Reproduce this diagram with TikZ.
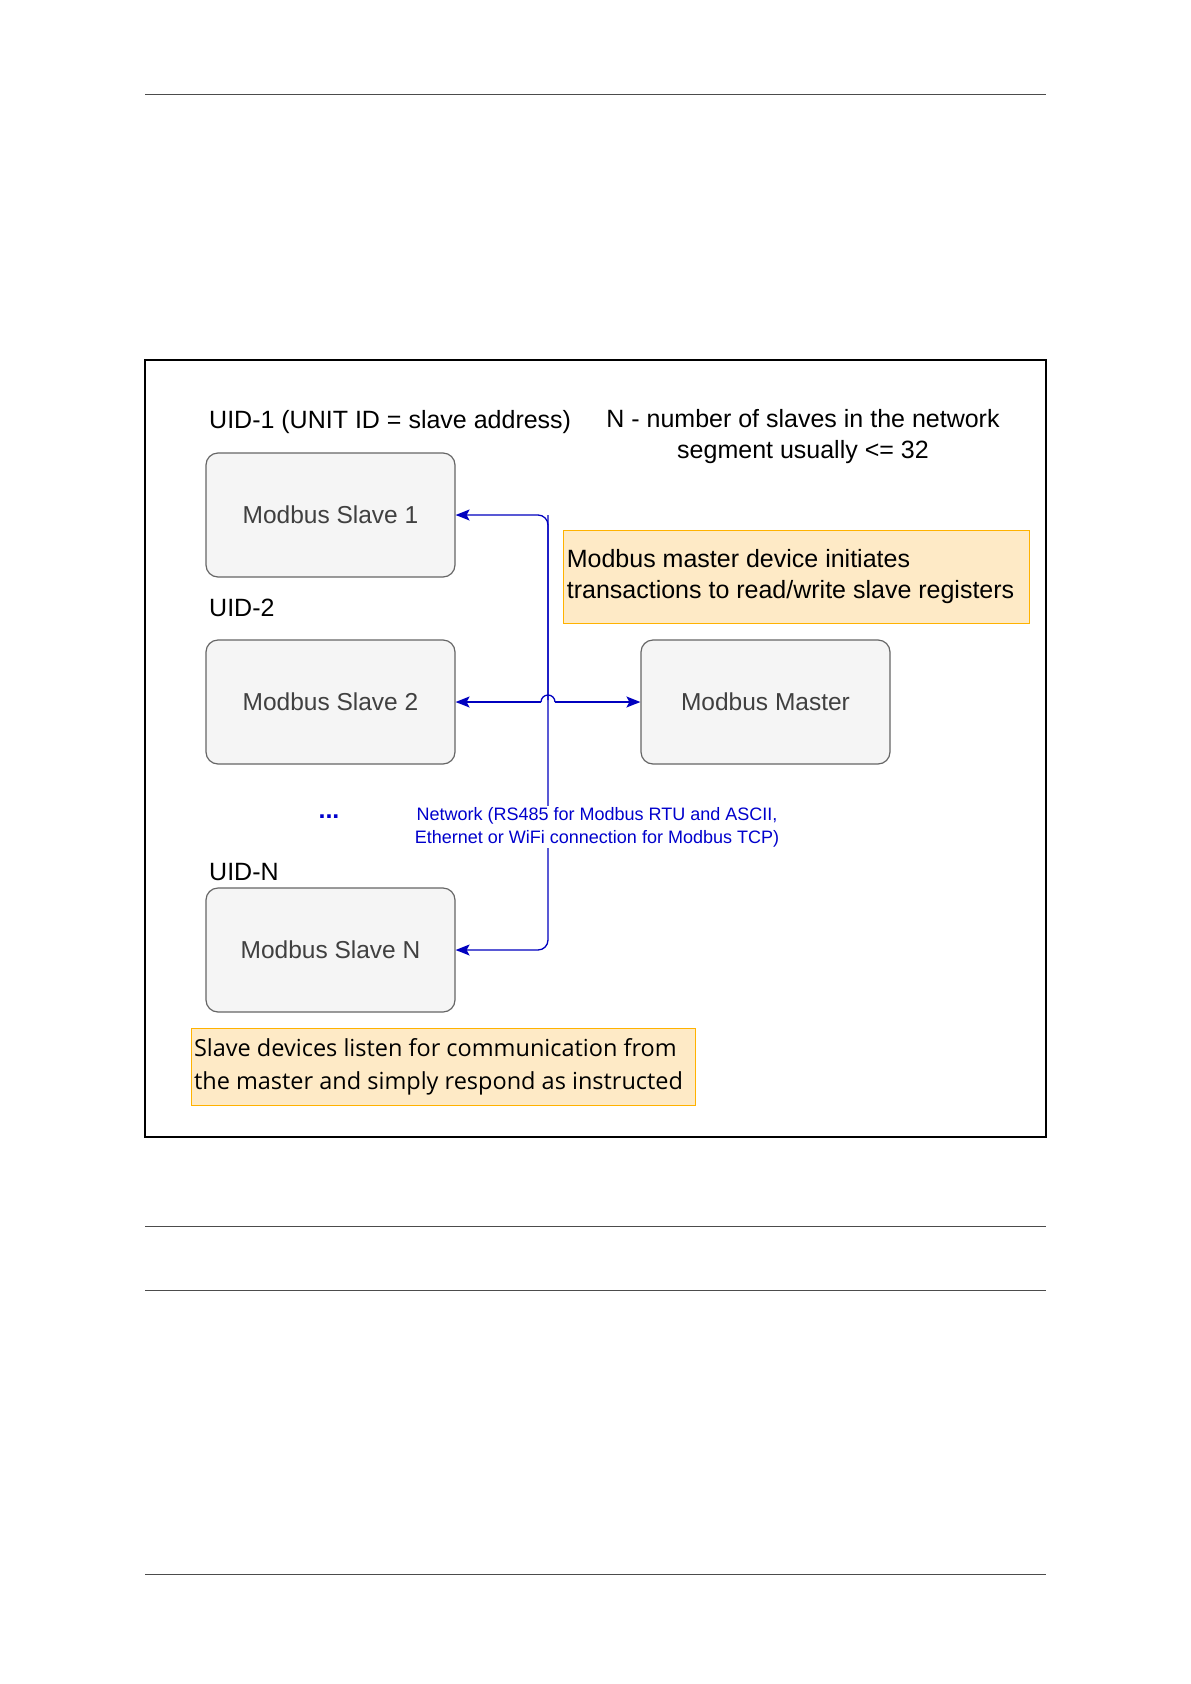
\documentclass[tikz,border=0pt]{standalone}
\usepackage{fontspec}
\setmainfont{Liberation Sans}
\newfontfamily\notefont{Open Sans}
\usetikzlibrary{arrows.meta}
\begin{document}
\begin{tikzpicture}[x=1pt,y=-1pt,
  devbox/.style={draw=black!60,line width=1.2pt,fill=black!4,rounded corners=12pt,font=\fontsize{24.5}{28}\selectfont,text=black!75},
  notebox/.style={draw=orange!60!yellow,line width=1pt,fill=yellow!25!orange!20,inner sep=2pt},
  lbl/.style={font=\fontsize{25}{31}\selectfont,inner sep=0pt},
  bus/.style={draw=blue!75!black,line width=1.3pt},
  tip/.style={-{Stealth[length=14pt,width=11pt,inset=3pt]}}]
\useasboundingbox (0,0) rectangle (1191,1684);
\draw[black!70,line width=0.8pt] (145,94) -- (1046,94);
\draw[black!70,line width=0.8pt] (145,1226) -- (1046,1226);
\draw[black!70,line width=0.8pt] (145,1290) -- (1046,1290);
\draw[black!70,line width=0.8pt] (145,1574) -- (1046,1574);
\draw[line width=1.2pt] (145,360) rectangle (1046,1137);
\node[devbox,minimum width=249pt,minimum height=124pt] (s1) at (330.5,515) {Modbus Slave 1};
\node[devbox,minimum width=249pt,minimum height=124pt] (s2) at (330.5,702) {Modbus Slave 2};
\node[devbox,minimum width=249pt,minimum height=124pt] (sn) at (330.5,950) {Modbus Slave N};
\node[devbox,minimum width=249pt,minimum height=124pt] (m) at (765.5,702) {Modbus Master};
\node[lbl,anchor=west] (u1) at (209,422) {UID-1 (UNIT ID = slave address)};
\node[lbl,anchor=west] (u2) at (209,608) {UID-2};
\node[lbl,anchor=west] (un) at (209,872) {UID-N};
\node[lbl,align=center] (nn) at (803,437) {N - number of slaves in the network\\segment usually <= 32};
\node[lbl,text=blue!80!black] (dots) at (329,817) {\textbf{...}};
\node[notebox,minimum width=466pt,minimum height=93pt] (n1) at (796,576.5) {};
\node[lbl,anchor=west,align=left] at (n1.west) {\,Modbus master device initiates\\\,transactions to read/write slave registers};
\node[notebox,minimum width=504pt,minimum height=77pt] (n2) at (443,1066.5) {};
\node[anchor=west,align=left,font=\notefont\fontsize{23.5}{33}\selectfont] at (n2.west) {Slave devices listen for communication from\\the master and simply respond as instructed};
\coordinate (bt) at (548,515);
\draw[bus,rounded corners=10pt,tip] (bt) -- (548,950) -- (sn.east);
\draw[bus,rounded corners=10pt,tip] (548,700) -- (bt) -- (s1.east);
\draw[bus,tip] (541,702) -- (s2.east);
\draw[bus] (541,702) arc (180:360:7);
\draw[bus,tip] (555,702) -- (m.west);
\node[fill=white,text=blue!80!black,align=center,font=\fontsize{18}{23}\selectfont,inner sep=1pt] (net) at (597,827) {Network (RS485 for Modbus RTU and ASCII,\\Ethernet or WiFi connection for Modbus TCP)};
\end{tikzpicture}
\end{document}
